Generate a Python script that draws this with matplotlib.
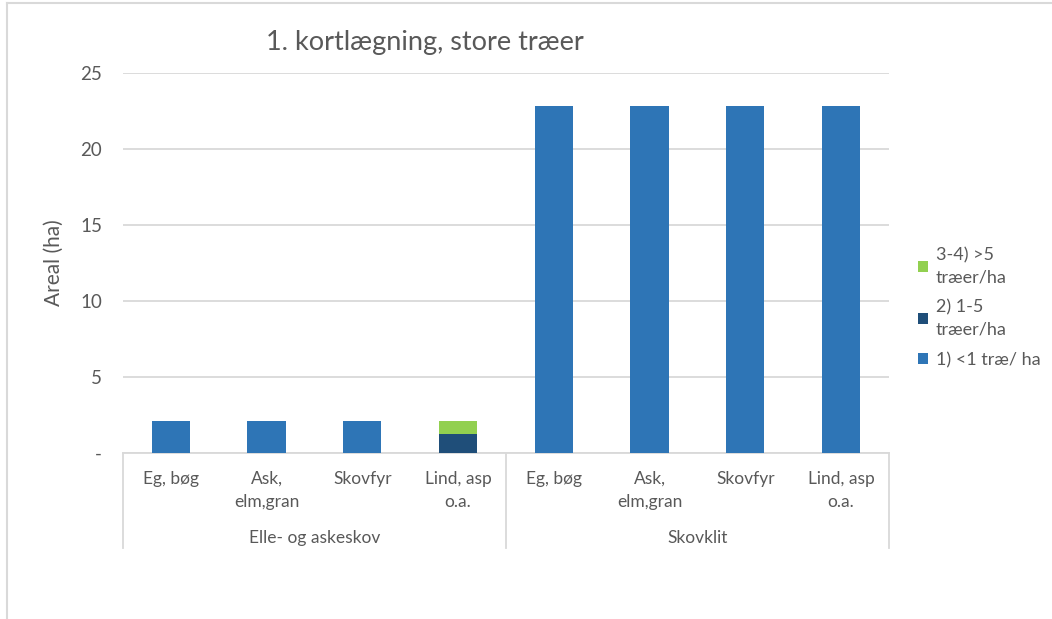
import matplotlib.pyplot as plt
import numpy as np
from matplotlib.lines import Line2D

# data
groups = ["Elle- og askeskov", "Skovklit"]
species = ["Eg, bøg", "Ask,\nelm,gran", "Skovfyr", "Lind, asp\no.a."]
series_names = ["1) <1 træ/ ha", "2) 1-5\ntræer/ha", "3-4) >5\ntræer/ha"]
under_1 = [2.1, 2.1, 2.1, 0.0, 22.8, 22.8, 22.8, 22.8]
from_1_to_5 = [0.0, 0.0, 0.0, 1.25, 0.0, 0.0, 0.0, 0.0]
over_5 = [0.0, 0.0, 0.0, 0.85, 0.0, 0.0, 0.0, 0.0]
y_ticks = [0, 5, 10, 15, 20, 25]
y_tick_labels = ["-", "5", "10", "15", "20", "25"]

colors = ["#2E75B6", "#1F4E79", "#92D050"]
text_color = "#595959"
grid_color = "#D9D9D9"

plt.rcParams["font.family"] = ["Lato", "DejaVu Sans"]

fig = plt.figure(figsize=(10.52, 6.19), dpi=100)
ax = fig.add_axes([0.1169, 0.2682, 0.7281, 0.6140])

x = np.arange(len(under_1))
bottom = np.zeros(len(x))
for name, vals, col in zip(series_names, [under_1, from_1_to_5, over_5], colors):
    ax.bar(x, vals, width=0.4, bottom=bottom, color=col, label=name, zorder=3)
    bottom += np.array(vals)

ax.set_xlim(-0.5, len(x) - 0.5)
ax.set_ylim(0, 25)
ax.set_yticks(y_ticks)
ax.set_yticklabels(y_tick_labels, color=text_color, fontsize=13.5)
ax.yaxis.grid(True, color=grid_color, linewidth=1.3, zorder=0)
ax.tick_params(axis="y", length=0, pad=15)

ax.set_xticks(x)
ax.set_xticklabels(species * len(groups), color=text_color, fontsize=12.5,
                   linespacing=1.5)
ax.tick_params(axis="x", length=0, pad=13)

for side in ["top", "right", "left"]:
    ax.spines[side].set_visible(False)
ax.spines["bottom"].set_color(grid_color)
ax.spines["bottom"].set_linewidth(1.3)

ax.set_ylabel("Areal (ha)", color=text_color, fontsize=15, labelpad=12)

# two-level category axis: group separators and group labels
trans = ax.get_xaxis_transform()
n = len(species)
for i in range(len(groups) + 1):
    xs = i * n - 0.5
    ax.add_artist(Line2D([xs, xs], [0, -0.25], transform=trans, color=grid_color,
                         linewidth=1.3, clip_on=False))
for i, g in enumerate(groups):
    ax.text(i * n + (n - 1) / 2, -0.224, g, transform=trans, ha="center",
            va="center", color=text_color, fontsize=12.5)

fig.text(0.404, 0.932, "1. kortlægning, store træer", ha="center", va="center",
         color=text_color, fontsize=19.5)

handles, labels = ax.get_legend_handles_labels()
leg = fig.legend(handles[::-1], labels[::-1], loc="center left",
                 bbox_to_anchor=(0.857, 0.503), frameon=False, fontsize=13,
                 handlelength=0.55, handleheight=0.55, handletextpad=0.45,
                 labelspacing=0.8, labelcolor=text_color)
for t in leg.get_texts():
    t.set_linespacing(1.45)

# chart border (cropped)
fig.add_artist(Line2D([0.0067, 0.0067], [0, 0.995], transform=fig.transFigure,
                      color=grid_color, linewidth=1.5))
fig.add_artist(Line2D([0.0067, 1], [0.995, 0.995], transform=fig.transFigure,
                      color=grid_color, linewidth=1.5))

fig.savefig("out.png", dpi=100)
